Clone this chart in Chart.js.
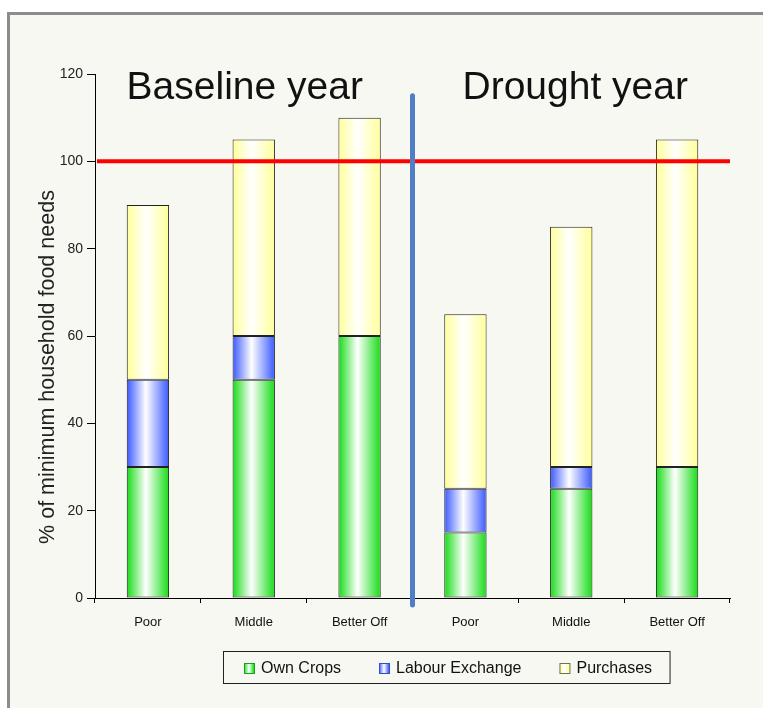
<!DOCTYPE html>
<html><head><meta charset="utf-8">
<script src="https://cdn.jsdelivr.net/npm/chart.js@4/dist/chart.umd.min.js"></script>
<style>
html,body{margin:0;padding:0;background:#ffffff;width:763px;height:708px;overflow:hidden;}
#frame{position:absolute;left:7px;top:12px;width:820px;height:760px;border-left:3px solid #8c8c8c;border-top:3px solid #8c8c8c;background:#f8f8f2;box-sizing:border-box;}
#wrap{position:absolute;left:0;top:0;width:763px;height:708px;}
</style></head><body>
<div id="frame"></div>
<div id="wrap"><canvas id="c" width="763" height="708"></canvas></div>
<script>
// ---- data ----
const categories = ['Poor', 'Middle', 'Better Off', 'Poor', 'Middle', 'Better Off'];
const periods = ['Baseline year', 'Drought year'];
const periodCenters = [1, 4];
const ownCrops = [30, 50, 60, 15, 25, 30];
const labourExchange = [20, 10, 0, 10, 5, 0];
const purchases = [40, 45, 50, 40, 55, 75];
const yTicks = [0, 20, 40, 60, 80, 100, 120];
const minimumNeed = 100;
const seriesNames = ['Own Crops', 'Labour Exchange', 'Purchases'];
const yTitle = '% of minimum household food needs';

const FONT = "'Liberation Sans', Arial, sans-serif";
const CAT_PCT = 0.8, BAR_PCT = 0.5;

function barGradient(color) {
  return function (ctx) {
    const chart = ctx.chart;
    const xs = chart.scales && chart.scales.x;
    if (!xs || !xs.width || ctx.dataIndex === undefined) return color;
    const cx = xs.getPixelForValue(ctx.dataIndex);
    const w = (xs.width / categories.length) * CAT_PCT * BAR_PCT;
    const g = chart.ctx.createLinearGradient(cx - w / 2, 0, cx + w / 2, 0);
    g.addColorStop(0, color);
    g.addColorStop(0.45, '#ffffff');
    g.addColorStop(1, color);
    return g;
  };
}

const seriesColors = ['#14dc14', '#3a58ff', '#ffff99'];
const legendBorder = ['#1aa01a', '#3050c0', '#707050'];

const decorPlugin = {
  id: 'decor',
  afterDatasetsDraw(chart) {
    const {ctx, chartArea, scales: {x, y}} = chart;
    ctx.save();
    // minimum need line
    const yy = y.getPixelForValue(minimumNeed);
    ctx.strokeStyle = '#ff0000';
    ctx.lineWidth = 4;
    ctx.beginPath();
    ctx.moveTo(chartArea.left + 2, yy);
    ctx.lineTo(chartArea.right, yy);
    ctx.stroke();
    // divider line between periods
    const xd = (x.getPixelForValue(2) + x.getPixelForValue(3)) / 2;
    ctx.strokeStyle = '#4f7ec6';
    ctx.lineWidth = 5;
    ctx.lineCap = 'round';
    ctx.beginPath();
    ctx.moveTo(xd, y.getPixelForValue(115));
    ctx.lineTo(xd, chartArea.bottom + 7);
    ctx.stroke();
    // period labels
    ctx.fillStyle = '#111111';
    ctx.font = '39px ' + FONT;
    ctx.textAlign = 'center';
    ctx.textBaseline = 'alphabetic';
    const shifts = [-9, 4];
    periods.forEach((p, i) => {
      ctx.fillText(p, x.getPixelForValue(periodCenters[i]) + shifts[i], y.getPixelForValue(114.3));
    });
    // y axis title
    ctx.save();
    ctx.translate(x.left - 47, (y.top + y.bottom) / 2 + 31);
    ctx.rotate(-Math.PI / 2);
    ctx.font = '21.5px ' + FONT;
    ctx.fillStyle = '#222';
    ctx.textBaseline = 'middle';
    ctx.fillText(yTitle, 0, 0);
    ctx.restore();
    ctx.restore();
  },
  afterDraw(chart) {
    const {ctx} = chart;
    ctx.save();
    ctx.font = '16px ' + FONT;
    const box = 10, gapText = 7, gapItem = 38;
    const widths = chart.data.datasets.map(d => box + gapText + ctx.measureText(d.label).width);
    const total = widths.reduce((a, b) => a + b, 0) + gapItem * (widths.length - 1);
    const left = 244, cy = 668;
    // legend frame
    ctx.fillStyle = '#f8f8f2';
    ctx.strokeStyle = '#222';
    ctx.lineWidth = 1;
    ctx.fillRect(223.5, 651.5, left + total + 18 - 223.5, 32);
    ctx.strokeRect(223.5, 651.5, left + total + 18 - 223.5, 32);
    let xx = left;
    chart.data.datasets.forEach((d, i) => {
      const g = ctx.createLinearGradient(xx, 0, xx + box, 0);
      g.addColorStop(0, seriesColors[i]);
      g.addColorStop(0.5, '#ffffff');
      g.addColorStop(1, seriesColors[i]);
      ctx.fillStyle = g;
      ctx.fillRect(xx + 0.5, cy - box / 2 + 0.5, box, box);
      ctx.strokeStyle = legendBorder[i];
      ctx.strokeRect(xx + 0.5, cy - box / 2 + 0.5, box, box);
      ctx.fillStyle = '#111';
      ctx.textAlign = 'left';
      ctx.textBaseline = 'middle';
      ctx.fillText(d.label, xx + box + gapText, cy + 1);
      xx += widths[i] + gapItem;
    });
    ctx.restore();
  }
};

new Chart(document.getElementById('c'), {
  type: 'bar',
  data: {
    labels: categories,
    datasets: [
      {label: seriesNames[0], data: ownCrops, backgroundColor: barGradient(seriesColors[0])},
      {label: seriesNames[1], data: labourExchange, backgroundColor: barGradient(seriesColors[1])},
      {label: seriesNames[2], data: purchases, backgroundColor: barGradient(seriesColors[2])}
    ].map(d => Object.assign(d, {
      borderColor: '#222222', borderWidth: 1, borderSkipped: false,
      categoryPercentage: CAT_PCT, barPercentage: BAR_PCT
    }))
  },
  options: {
    responsive: false,
    animation: false,
    devicePixelRatio: 1,
    layout: {padding: {left: 20, right: 33, top: 74, bottom: 80}},
    plugins: {legend: {display: false}, tooltip: {enabled: false}, title: {display: false}},
    scales: {
      x: {
        stacked: true,
        offset: true,
        grid: {offset: true, drawOnChartArea: false, drawTicks: true, tickLength: 5, color: '#000'},
        border: {display: true, color: '#000', width: 1},
        ticks: {color: '#111', font: {family: FONT, size: 13}, padding: 12, maxRotation: 0, autoSkip: false},
        afterFit(s) { s.height = 30; }
      },
      y: {
        stacked: true,
        min: 0, max: 120,
        afterBuildTicks(s) { s.ticks = yTicks.map(v => ({value: v})); },
        grid: {drawOnChartArea: false, drawTicks: true, tickLength: 8, color: '#000'},
        border: {display: true, color: '#000', width: 1},
        ticks: {color: '#222', font: {family: FONT, size: 14}, padding: 4},
        title: {display: false},
        afterFit(s) { s.width = 75; }
      }
    }
  },
  plugins: [decorPlugin]
});
</script>
</body></html>
